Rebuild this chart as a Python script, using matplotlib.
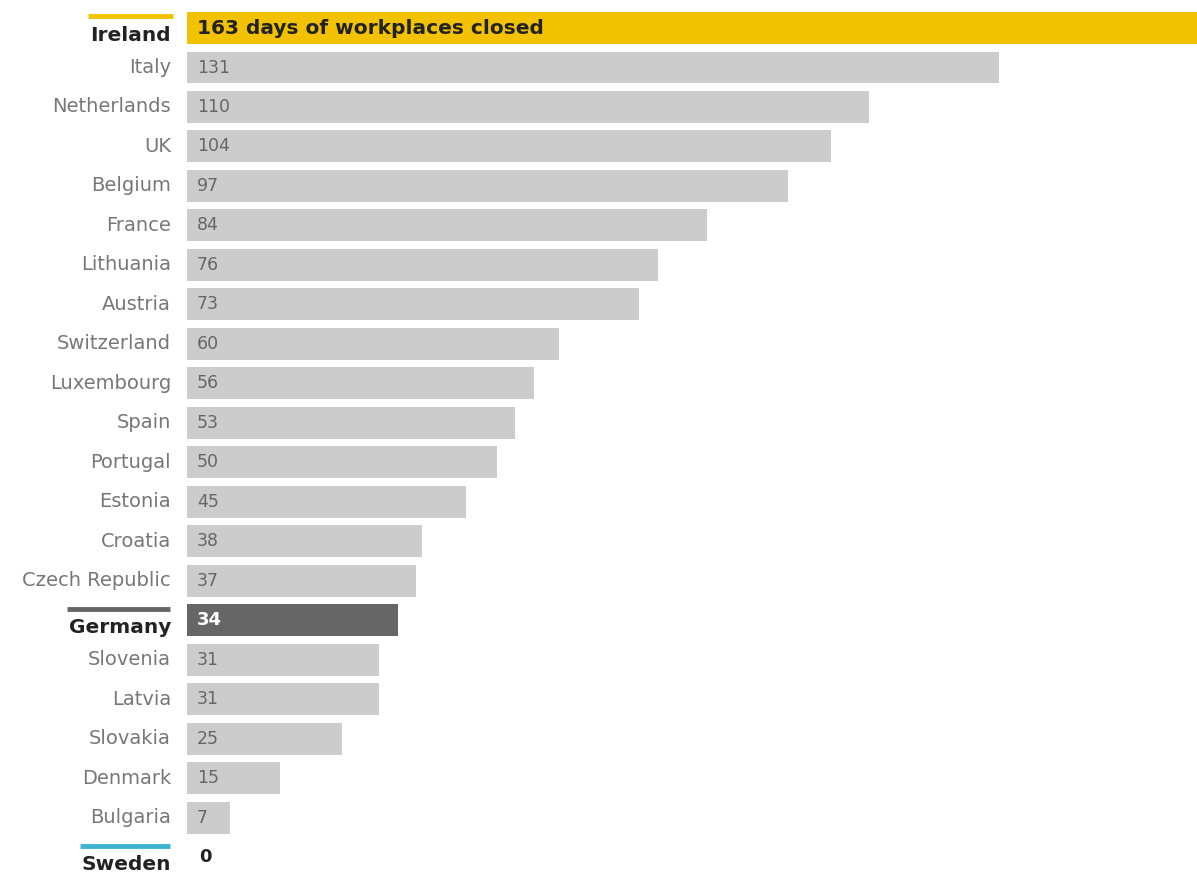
import matplotlib.pyplot as plt
import matplotlib as mpl

mpl.rcParams["font.family"] = ["DejaVu Sans"]

# days of workplaces closed
countries = ["Ireland", "Italy", "Netherlands", "UK", "Belgium", "France", "Lithuania",
             "Austria", "Switzerland", "Luxembourg", "Spain", "Portugal", "Estonia",
             "Croatia", "Czech Republic", "Germany", "Slovenia", "Latvia", "Slovakia",
             "Denmark", "Bulgaria", "Sweden"]
days = [163, 131, 110, 104, 97, 84, 76, 73, 60, 56, 53, 50, 45, 38, 37, 34, 31, 31, 25, 15, 7, 0]

highlight = {"Ireland": "#f2c100", "Germany": "#666666", "Sweden": "#3cb4cf"}
grey = "#cccccc"

fig = plt.figure(figsize=(11.97, 8.72), dpi=100)
ax = fig.add_axes([187 / 1197, 0, 1010 / 1197, 1])

colors = [highlight.get(c, grey) for c in countries]
ypos = list(range(len(countries)))
ax.barh(ypos, days, height=0.81, color=colors, left=0)

ax.set_xlim(0, 163)
ax.set_ylim(21.38, -0.71)
ax.axis("off")

for i, (c, d) in enumerate(zip(countries, days)):
    if c in highlight:
        ax.text(-2.6, i + 0.18, c, ha="right", va="center", fontsize=14.5,
                fontweight="bold", color="#222222")
    else:
        ax.text(-2.6, i, c, ha="right", va="center", fontsize=14,
                color="#777777")

    if c == "Ireland":
        ax.text(1.6, i, f"{d} days of workplaces closed", ha="left", va="center",
                fontsize=14.5, fontweight="bold", color="#222222")
    elif c == "Germany":
        ax.text(1.6, i, str(d), ha="left", va="center", fontsize=13,
                fontweight="bold", color="white")
    elif c == "Sweden":
        ax.text(2.0, i, str(d), ha="left", va="center", fontsize=13,
                fontweight="bold", color="#222222")
    else:
        ax.text(1.6, i, str(d), ha="left", va="center", fontsize=12.5,
                color="#666666")

# coloured lines above highlighted names (figure pixel coords)
marks = {"Ireland": (88, 173, 16), "Germany": (67, 170, 609), "Sweden": (80, 170, 846)}
for c, (x0, x1, y) in marks.items():
    fig.add_artist(plt.Line2D([x0 / 1197, x1 / 1197], [1 - y / 872, 1 - y / 872],
                              color=highlight[c], lw=3.5, solid_capstyle="butt"))

plt.savefig("out.png", dpi=100)
